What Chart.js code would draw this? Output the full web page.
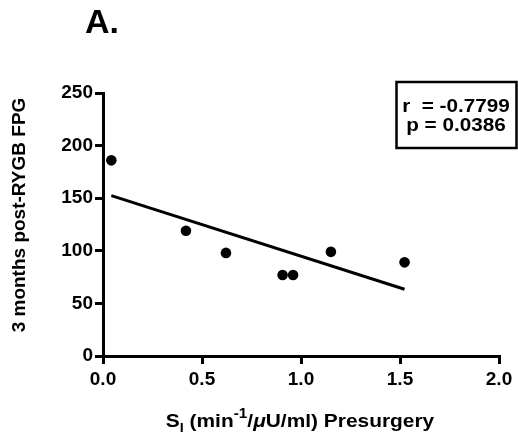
<!DOCTYPE html>
<html>
<head>
<meta charset="utf-8">
<script src="https://cdn.jsdelivr.net/npm/chart.js@4/dist/chart.umd.min.js"></script>
<style>
  html, body { margin: 0; padding: 0; background: #fff; }
  #wrap { width: 518px; height: 444px; }
</style>
</head>
<body>
<div id="wrap"><canvas id="c" width="518" height="444"></canvas></div>
<script>
// Data
const siValues = [0.042, 0.419, 0.621, 0.907, 0.960, 1.151, 1.523];
const fpgValues = [186, 119, 98, 77, 77, 99, 89];
const fitX = [0.042, 1.523];
const fitY = [152.5, 63.5];
const xTickValues = [0, 0.5, 1.0, 1.5, 2.0];
const yTickValues = [0, 50, 100, 150, 200, 250];
const panelTitle = 'A.';
const yTitle = '3 months post-RYGB FPG';
const statLines = ['r  = -0.7799', 'p = 0.0386'];

const FONT = '"Liberation Sans", Arial, Helvetica, sans-serif';

const scatterData = siValues.map((x, i) => ({ x: x, y: fpgValues[i] }));
const fitData = fitX.map((x, i) => ({ x: x, y: fitY[i] }));

const annotatePlugin = {
  id: 'annotate',
  afterDraw(chart) {
    const ctx = chart.ctx;
    const ca = chart.chartArea;
    ctx.save();
    ctx.fillStyle = '#000';
    ctx.strokeStyle = '#000';

    // Panel title
    ctx.font = 'bold 34px ' + FONT;
    ctx.textAlign = 'left';
    ctx.textBaseline = 'alphabetic';
    ctx.fillText(panelTitle, 85, 33);

    // Y-axis title (rotated)
    ctx.save();
    ctx.translate(25, 215);
    ctx.rotate(-Math.PI / 2);
    ctx.font = 'bold 19px ' + FONT;
    ctx.textAlign = 'center';
    ctx.textBaseline = 'alphabetic';
    ctx.fillText(yTitle, 0, 0);
    ctx.restore();

    // X-axis title with subscript / superscript
    const sx = 1.1;
    const parts = [
      { t: 'S', size: 19, dy: 0, style: 'bold' },
      { t: 'I', size: 13, dy: 5, style: 'bold' },
      { t: ' (min', size: 19, dy: 0, style: 'bold' },
      { t: '-1', size: 14, dy: -9, style: 'bold' },
      { t: '/', size: 19, dy: 0, style: 'bold' },
      { t: '\u03BC', size: 19, dy: 0, style: 'italic bold' },
      { t: 'U/ml) Presurgery', size: 19, dy: 0, style: 'bold' }
    ];
    let total = 0;
    parts.forEach(p => {
      ctx.font = p.style + ' ' + p.size + 'px ' + FONT;
      p.w = ctx.measureText(p.t).width;
      total += p.w;
    });
    const cx = (ca.left + ca.right) / 2 - 1;
    ctx.save();
    ctx.translate(cx - total * sx / 2, 427);
    ctx.scale(sx, 1);
    ctx.textAlign = 'left';
    let xp = 0;
    parts.forEach(p => {
      ctx.font = p.style + ' ' + p.size + 'px ' + FONT;
      ctx.fillText(p.t, xp, p.dy);
      xp += p.w;
    });
    ctx.restore();

    // Stats box
    ctx.lineWidth = 2.5;
    ctx.strokeRect(396.5, 82, 120, 66);
    ctx.font = 'bold 18px ' + FONT;
    ctx.textAlign = 'center';
    const bx = 456;
    [112, 131].forEach((by, i) => {
      ctx.save();
      ctx.translate(bx, by);
      ctx.scale(1.15, 1);
      ctx.fillText(statLines[i], 0, 0);
      ctx.restore();
    });

    ctx.restore();
  }
};

new Chart(document.getElementById('c'), {
  type: 'scatter',
  data: {
    datasets: [
      {
        type: 'scatter',
        data: scatterData,
        pointRadius: 5.3,
        pointHoverRadius: 5.3,
        pointBackgroundColor: '#000',
        pointBorderColor: '#000',
        pointBorderWidth: 0,
        showLine: false
      },
      {
        type: 'line',
        data: fitData,
        borderColor: '#000',
        borderWidth: 3,
        pointRadius: 0,
        fill: false,
        tension: 0
      }
    ]
  },
  options: {
    responsive: false,
    animation: false,
    events: [],
    layout: { padding: { left: 0, right: 19, top: 93, bottom: 0 } },
    plugins: {
      legend: { display: false },
      tooltip: { enabled: false },
      title: { display: false }
    },
    scales: {
      x: {
        type: 'linear',
        min: 0,
        max: 2,
        afterFit(scale) { scale.height = 88; },
        afterBuildTicks(scale) { scale.ticks = xTickValues.map(v => ({ value: v })); },
        border: { display: true, color: '#000', width: 3 },
        grid: { display: true, drawOnChartArea: false, drawTicks: true, tickLength: 8, color: '#000', lineWidth: 3 },
        ticks: {
          color: '#000',
          padding: 4,
          maxRotation: 0,
          font: { family: FONT, size: 19, weight: 'bold' },
          callback: v => Number(v).toFixed(1)
        }
      },
      y: {
        type: 'linear',
        min: 0,
        max: 250,
        afterFit(scale) { scale.width = 103; },
        afterBuildTicks(scale) { scale.ticks = yTickValues.map(v => ({ value: v })); },
        border: { display: true, color: '#000', width: 3 },
        grid: { display: true, drawOnChartArea: false, drawTicks: true, tickLength: 8, color: '#000', lineWidth: 3 },
        ticks: {
          color: '#000',
          padding: 2,
          font: { family: FONT, size: 19, weight: 'bold' },
          callback: v => String(v)
        }
      }
    }
  },
  plugins: [annotatePlugin]
});
</script>
</body>
</html>
